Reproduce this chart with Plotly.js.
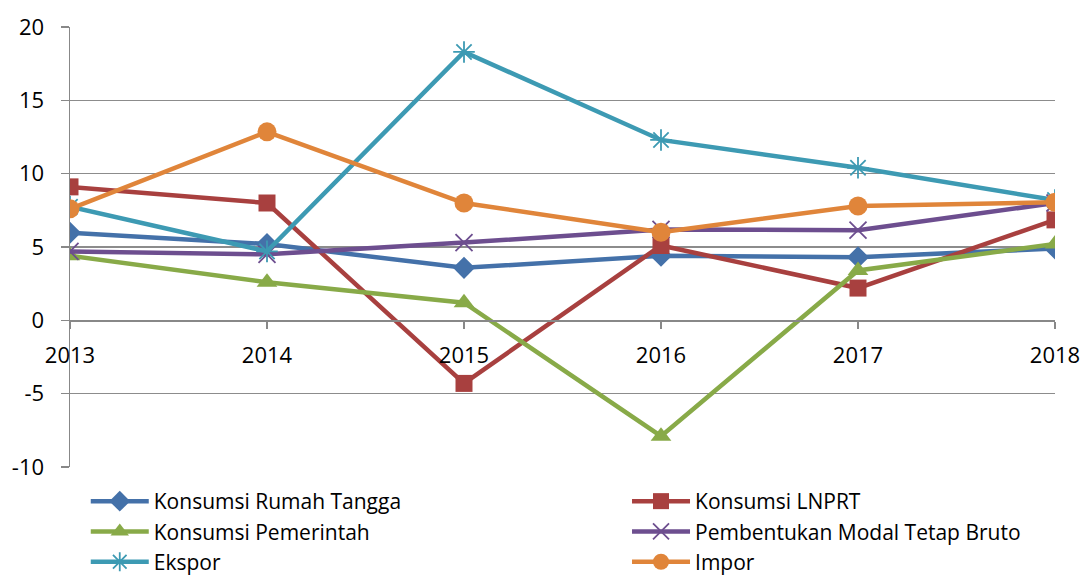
<!DOCTYPE html>
<html>
<head>
<meta charset="utf-8">
<script src="https://cdn.plot.ly/plotly-3.0.1.min.js"></script>
<style>html,body{margin:0;padding:0;background:#fff;}#chart{width:1083px;height:575px;}</style>
</head>
<body>
<div id="chart"></div>
<script>
var years = ['2013', '2014', '2015', '2016', '2017', '2018'];
var seriesNames = ['Konsumsi Rumah Tangga', 'Konsumsi LNPRT', 'Konsumsi Pemerintah', 'Pembentukan Modal Tetap Bruto', 'Ekspor', 'Impor'];
var rumahTangga = [5.97, 5.2, 3.58, 4.4, 4.3, 4.9];
var lnprt = [9.1, 8.0, -4.3, 5.1, 2.2, 6.85];
var pemerintah = [4.4, 2.6, 1.2, -7.9, 3.4, 5.2];
var pmtb = [4.7, 4.5, 5.3, 6.2, 6.15, 8.0];
var ekspor = [7.75, 4.7, 18.3, 12.3, 10.4, 8.2];
var impor = [7.6, 12.85, 8.0, 6.0, 7.8, 8.05];
var yTickVals = [-10, -5, 0, 5, 10, 15, 20];
var yTickText = ['-10', '-5', '0', '5', '10', '15', '20'];

var values = [rumahTangga, lnprt, pemerintah, pmtb, ekspor, impor];
var colors = ['#4471A9', '#A8403F', '#88AA48', '#6D4E8F', '#3D9AB3', '#E0853A'];
var symbols = ['diamond', 'square', 'triangle-up', 'x-thin-open', 'asterisk-open', 'circle'];
var sizes = [17, 17, 18, 17, 18, 19];
var legendOf = ['legend', 'legend2', 'legend', 'legend2', 'legend', 'legend2'];

var traces = values.map(function (v, i) {
  var open = symbols[i].indexOf('open') >= 0;
  return {
    type: 'scatter', mode: 'lines+markers', name: seriesNames[i],
    x: years, y: v, legend: legendOf[i],
    line: {color: colors[i], width: 4.5},
    marker: {symbol: symbols[i], size: sizes[i], color: colors[i],
             line: {color: colors[i], width: open ? 1.8 : 0}}
  };
});

var legendBase = {
  orientation: 'v', y: -0.0318, yanchor: 'top', xanchor: 'left',
  itemwidth: 58, font: {size: 21, color: '#000'}, tracegroupgap: 0,
  bgcolor: 'rgba(0,0,0,0)', traceorder: 'normal'
};

var layout = {
  width: 1083, height: 575,
  margin: {l: 70, r: 28, t: 27, b: 108, autoexpand: false},
  paper_bgcolor: '#fff', plot_bgcolor: '#fff',
  font: {family: '"Open Sans", "Noto Sans", sans-serif', size: 22, color: '#000'},
  showlegend: true,
  xaxis: {
    type: 'category', range: [0, 5], anchor: 'free', position: 1/3,
    showgrid: false, zeroline: false, showline: true, linecolor: '#888', linewidth: 1.5,
    ticks: 'outside', ticklen: 7, tickcolor: '#888', tickwidth: 1.5, ticklabelstandoff: 8,
    tickfont: {size: 22, color: '#000'}, fixedrange: true
  },
  yaxis: {
    range: [-10, 20], tickmode: 'array', tickvals: yTickVals, ticktext: yTickText,
    showgrid: true, gridcolor: '#8c8c8c', gridwidth: 1.5,
    zeroline: false, showline: true, linecolor: '#888', linewidth: 1.5,
    ticks: 'outside', ticklen: 8, tickcolor: '#888', tickwidth: 1.5, ticklabelstandoff: 12,
    tickfont: {size: 22, color: '#000'}, fixedrange: true
  },
  legend: Object.assign({}, legendBase, {x: 0.016}),
  legend2: Object.assign({}, legendBase, {x: 0.5655})
};

Plotly.newPlot('chart', traces, layout, {displayModeBar: false, staticPlot: true});
</script>
</body>
</html>
